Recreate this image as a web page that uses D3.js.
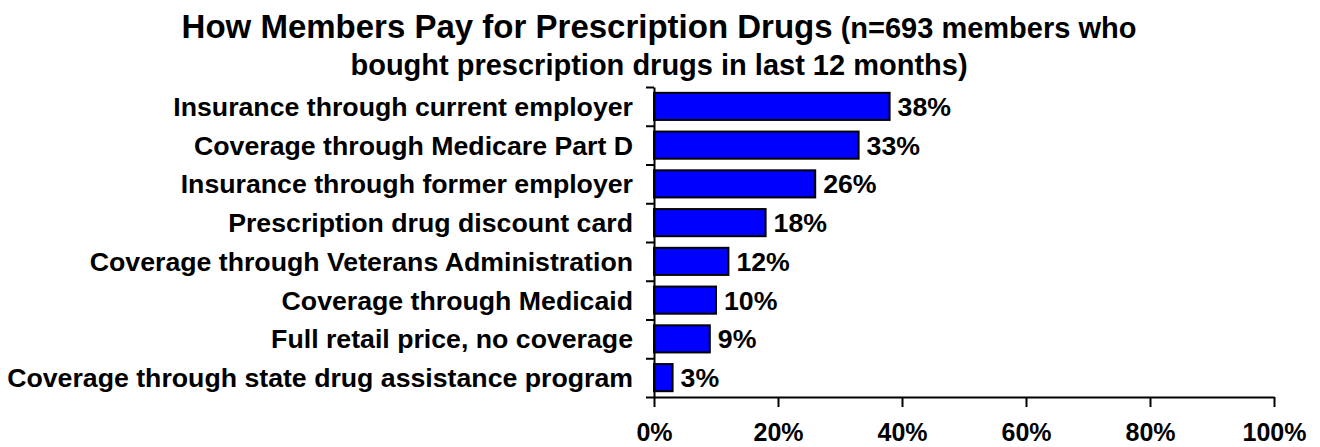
<!DOCTYPE html>
<html>
<head>
<meta charset="utf-8">
<script src="https://cdn.jsdelivr.net/npm/d3@7"></script>
<style>
  body { margin: 0; background: #fff; }
  text { font-family: "Liberation Sans", Arial, sans-serif; font-weight: bold; fill: #000; }
</style>
</head>
<body>
<script>
// chart data
var categories = [
  "Insurance through current employer",
  "Coverage through Medicare Part D",
  "Insurance through former employer",
  "Prescription drug discount card",
  "Coverage through Veterans Administration",
  "Coverage through Medicaid",
  "Full retail price, no coverage",
  "Coverage through state drug assistance program"
];
var values = [38, 33, 26, 18, 12, 10, 9, 3];
var x_ticks = [0, 20, 40, 60, 80, 100];

var width = 1320,
    height = 447;

var plot = {left: 654, right: 1274, top: 87, bottom: 397};
var LABEL_SIZE = 26.7;
var TICK_SIZE = 25;

var svg = d3.select("body").append("svg")
    .attr("width", width)
    .attr("height", height);

var x = d3.scaleLinear().domain([0, 100]).range([plot.left, plot.right]);
var y = d3.scaleBand().domain(categories).range([plot.top, plot.bottom])
    .paddingInner(0.3).paddingOuter(0.15);
var sep = d3.scaleLinear().domain([0, categories.length]).range([plot.top, plot.bottom]);

// title
var title = svg.append("text")
    .attr("x", 659)
    .attr("y", 38)
    .attr("text-anchor", "middle");
title.append("tspan").style("font-size", "33px").text("How Members Pay for Prescription Drugs");
title.append("tspan").style("font-size", "29px").text(" (n=693 members who");

svg.append("text")
    .attr("x", 659)
    .attr("y", 75)
    .attr("text-anchor", "middle")
    .style("font-size", "29px")
    .text("bought prescription drugs in last 12 months)");

// bars
svg.append("g").selectAll("rect")
    .data(values)
    .enter().append("rect")
    .attr("x", x(0))
    .attr("y", function(d, i) { return y(categories[i]); })
    .attr("width", function(d) { return x(d) - x(0); })
    .attr("height", y.bandwidth())
    .attr("fill", "#0000ff")
    .attr("stroke", "#000")
    .attr("stroke-width", 2);

// value labels
svg.append("g").selectAll("text")
    .data(values)
    .enter().append("text")
    .attr("x", function(d) { return x(d) + 8; })
    .attr("y", function(d, i) { return y(categories[i]) + y.bandwidth() / 2; })
    .attr("dy", "0.36em")
    .style("font-size", LABEL_SIZE + "px")
    .text(function(d) { return d + "%"; });

// category labels
svg.append("g").selectAll("text")
    .data(categories)
    .enter().append("text")
    .attr("x", 633)
    .attr("y", function(d) { return y(d) + y.bandwidth() / 2; })
    .attr("dy", "0.36em")
    .attr("text-anchor", "end")
    .style("font-size", LABEL_SIZE + "px")
    .text(function(d) { return d; });

// y axis with separator ticks between categories
svg.append("g")
    .attr("transform", "translate(" + plot.left + ",0)")
    .call(d3.axisLeft(sep).tickValues(d3.range(categories.length + 1)).tickSize(8).tickSizeOuter(0).tickFormat(""));

// x axis
var x_axis = svg.append("g")
    .attr("transform", "translate(0," + plot.bottom + ")")
    .call(d3.axisBottom(x).tickValues(x_ticks).tickSize(10).tickSizeOuter(0)
        .tickFormat(function(d) { return d + "%"; }));
x_axis.selectAll("text")
    .attr("y", 44)
    .attr("dy", null)
    .attr("font-family", null)
    .style("font-size", TICK_SIZE + "px");

svg.selectAll(".domain, .tick line").attr("stroke", "#000").attr("stroke-width", 2);
</script>
</body>
</html>
